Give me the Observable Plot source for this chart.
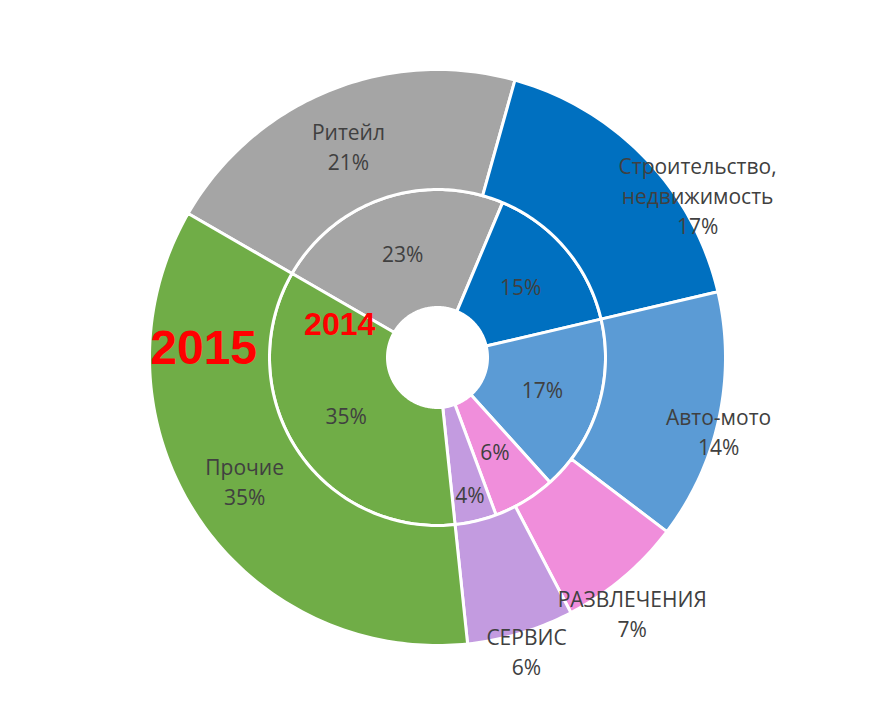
<!DOCTYPE html>
<html><head><meta charset="utf-8">
<script src="https://cdn.jsdelivr.net/npm/d3@7"></script>
<script src="https://cdn.jsdelivr.net/npm/@observablehq/plot@0.6"></script>
<style>body{margin:0;background:#fff;} #chart svg{display:block;}</style>
</head><body><div id="chart"></div>
<script>
// ---- data ----
const categories = ["Ритейл", "Строительство,\nнедвижимость", "Авто-мото", "РАЗВЛЕЧЕНИЯ", "СЕРВИС", "Прочие"];
const values2014 = [23, 15, 17, 6, 4, 35];
const values2015 = [21, 17, 14, 7, 6, 35];
const palette = ["#A5A5A5", "#0070C0", "#5B9BD5", "#F08EDB", "#C39BE0", "#70AD47"];
const years = ["2014", "2015"];

// ---- layout ----
const W = 875, H = 715, CX = 437, CY = 357;
const startAngle = 300;                  // first slice angle (deg, clockwise from 12 o'clock)
const ringRadii = [[50, 168], [168, 288]]; // inner ring (2014), outer ring (2015)
const innerLabelRadius = [109, 109, 110, 111, 142, 109];
const outerLabelRadius = [228, 306, 291, 322, 308, 230];
const outerLabelShift = [-0.8, 12, 3, 3, 0, 0];
const yearLabelPos = [[288.3, 103], [272.2, 234]];

const polar = (deg, r) => { const a = deg * Math.PI / 180; return [r * Math.sin(a), r * Math.cos(a)]; };

const seriesList = [values2014, values2015];
const polys = [], labels = [];
seriesList.forEach((vals, ri) => {
  const [r0, r1] = ringRadii[ri];
  const total = d3.sum(vals);
  let acc = 0;
  vals.forEach((v, i) => {
    const a0 = startAngle + acc / total * 360; acc += v;
    const a1 = startAngle + acc / total * 360;
    const id = years[ri] + "-" + i;
    const n = Math.max(2, Math.ceil(a1 - a0));
    const pts = [];
    for (let k = 0; k <= n; k++) pts.push(polar(a0 + (a1 - a0) * k / n, r1));
    for (let k = n; k >= 0; k--) pts.push(polar(a0 + (a1 - a0) * k / n, r0));
    pts.push(pts[0]);
    pts.forEach(([x, y]) => polys.push({id, cat: categories[i], x, y}));
    const mid = (a0 + a1) / 2;
    if (ri === 0) {
      const [x, y] = polar(mid, innerLabelRadius[i]);
      labels.push({x, y, text: v + "%"});
    } else {
      const [x, y] = polar(mid + outerLabelShift[i], outerLabelRadius[i]);
      labels.push({x, y, text: categories[i] + "\n" + v + "%"});
    }
  });
});

const yearLabels = years.map((yr, i) => {
  const [x, y] = polar(yearLabelPos[i][0], yearLabelPos[i][1]);
  return {x, y, text: yr};
});

const chart = Plot.plot({
  width: W, height: H, margin: 0,
  x: {domain: [-CX, W - CX], axis: null},
  y: {domain: [-(H - CY), CY], axis: null},
  color: {domain: categories, range: palette},
  marks: [
    Plot.line(polys, {x: "x", y: "y", z: "id", fill: "cat", stroke: "white", strokeWidth: 3, strokeLinejoin: "round"}),
    Plot.text(labels, {x: "x", y: "y", text: "text", fill: "#404040", fontSize: 21, lineHeight: 1.43, dy: -2, fontFamily: "Open Sans"}),
    Plot.text(yearLabels.slice(0, 1), {x: "x", y: "y", text: "text", fill: "#FF0000", fontSize: 32, fontWeight: "bold", fontFamily: "Liberation Sans"}),
    Plot.text(yearLabels.slice(1), {x: "x", y: "y", text: "text", fill: "#FF0000", fontSize: 48, fontWeight: "bold", fontFamily: "Liberation Sans"})
  ]
});
document.getElementById("chart").appendChild(chart);
</script>
</body></html>
